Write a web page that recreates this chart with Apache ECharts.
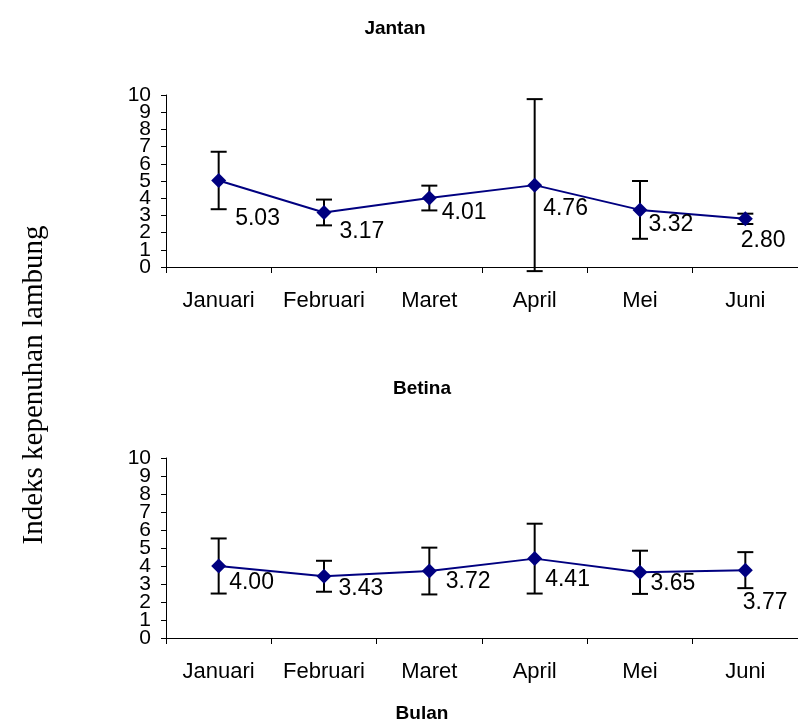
<!DOCTYPE html>
<html>
<head>
<meta charset="utf-8">
<script src="https://cdn.jsdelivr.net/npm/echarts@6/dist/echarts.min.js"></script>
<style>
  html, body { margin: 0; padding: 0; background: #fff; }
  #chart { width: 798px; height: 723px; }
</style>
</head>
<body>
<div id="chart"></div>
<script>
var months = ["Januari", "Februari", "Maret", "April", "Mei", "Juni"];
var yTicks = [0, 1, 2, 3, 4, 5, 6, 7, 8, 9, 10];

// Jantan (male)
var jantanMean = [5.03, 3.17, 4.01, 4.76, 3.32, 2.80];
var jantanErr = [1.67, 0.75, 0.72, 5.0, 1.68, 0.3];

// Betina (female)
var betinaMean = [4.00, 3.43, 3.72, 4.41, 3.65, 3.77];
var betinaErr = [1.53, 0.86, 1.3, 1.94, 1.2, 1.0];

// label offsets (style only)
var jantanLabelOff = [[4, 38], [3, 19], [0, 15], [-4, 24], [-4, 15], [-17, 22]];
var betinaLabelOff = [[-2, 17], [2, 12], [4, 11], [-2, 21], [-2, 11], [-15, 33]];

var chart = echarts.init(document.getElementById("chart"));

function errSeries(mean, err, idx) {
  var data = mean.map(function (m, i) { return [i, m - err[i], m + err[i]]; });
  return {
    type: "custom",
    xAxisIndex: idx,
    yAxisIndex: idx,
    clip: false,
    z: 1,
    data: data,
    renderItem: function (params, api) {
      var lo = api.coord([api.value(0), api.value(1)]);
      var hi = api.coord([api.value(0), api.value(2)]);
      var w = 8;
      var st = { stroke: "#000", lineWidth: 2 };
      return {
        type: "group",
        children: [
          { type: "line", shape: { x1: hi[0], y1: hi[1], x2: lo[0], y2: lo[1] }, style: st },
          { type: "line", shape: { x1: hi[0] - w, y1: hi[1], x2: hi[0] + w, y2: hi[1] }, style: st },
          { type: "line", shape: { x1: lo[0] - w, y1: lo[1], x2: lo[0] + w, y2: lo[1] }, style: st }
        ]
      };
    }
  };
}

function lineSeries(mean, offs, idx) {
  return {
    type: "line",
    xAxisIndex: idx,
    yAxisIndex: idx,
    z: 3,
    data: mean.map(function (m, i) {
      return {
        value: m,
        label: { offset: offs[i] }
      };
    }),
    symbol: "diamond",
    symbolSize: 15,
    lineStyle: { color: "#000080", width: 2 },
    itemStyle: { color: "#000080" },
    animation: false,
    label: {
      show: true,
      position: "right",
      color: "#000",
      fontFamily: "Liberation Sans, Arial",
      fontSize: 23,
      formatter: function (p) { return p.value.toFixed(2); }
    }
  };
}

function xAx(idx) {
  return {
    type: "category",
    gridIndex: idx,
    data: months,
    boundaryGap: true,
    axisLine: { lineStyle: { color: "#000", width: 1 } },
    axisTick: { show: true, length: 6, interval: 0, lineStyle: { color: "#000" } },
    axisLabel: { color: "#000", fontFamily: "Liberation Sans, Arial", fontSize: 22, margin: 23, interval: 0 }
  };
}

// labels are packed tighter than their height, so the ends (0, 10) go on
// a second label-only axis to stop echarts hiding them
function yAx(idx, ends) {
  var lo = yTicks[0], hi = yTicks[yTicks.length - 1];
  return {
    type: "value",
    gridIndex: idx,
    position: "left",
    offset: 0,
    min: lo,
    max: hi,
    interval: 1,
    splitLine: { show: false },
    axisLine: { show: !ends, lineStyle: { color: "#000", width: 1 } },
    axisTick: { show: !ends, length: 5, lineStyle: { color: "#000" } },
    axisLabel: {
      color: "#000", fontFamily: "Liberation Sans, Arial", fontSize: 21, margin: 15,
      hideOverlap: false,
      formatter: function (v) {
        var isEnd = (v === lo || v === hi);
        return (ends ? isEnd : !isEnd) ? String(v) : "";
      }
    }
  };
}

var titleStyle = { fontFamily: "Liberation Sans, Arial", fontSize: 19, fontWeight: "bold", color: "#000" };

var option = {
  animation: false,
  title: [
    { text: "Jantan", left: 390, top: 14, textAlign: "center", textStyle: titleStyle },
    { text: "Betina", left: 417, top: 374, textAlign: "center", textStyle: titleStyle },
    { text: "Bulan", left: 417, top: 699, textAlign: "center", textStyle: titleStyle }
  ],
  grid: [
    { left: 166, top: 95, width: 632, height: 172 },
    { left: 166, top: 458, width: 632, height: 180 }
  ],
  xAxis: [xAx(0), xAx(1)],
  yAxis: [yAx(0, false), yAx(1, false), yAx(0, true), yAx(1, true)],
  graphic: [{
    type: "text",
    x: 34,
    y: 385,
    rotation: Math.PI / 2,
    style: {
      text: "Indeks kepenuhan lambung",
      fontFamily: "Liberation Serif, Times New Roman",
      fontSize: 29,
      fill: "#000",
      textAlign: "center",
      textVerticalAlign: "middle"
    }
  }],
  series: [
    errSeries(jantanMean, jantanErr, 0),
    lineSeries(jantanMean, jantanLabelOff, 0),
    errSeries(betinaMean, betinaErr, 1),
    lineSeries(betinaMean, betinaLabelOff, 1)
  ]
};

chart.setOption(option);
</script>
</body>
</html>
